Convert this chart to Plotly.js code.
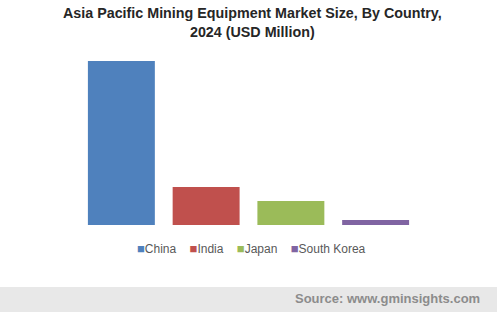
<!DOCTYPE html>
<html>
<head>
<meta charset="utf-8">
<script src="https://cdn.plot.ly/plotly-3.0.1.min.js"></script>
<style>html,body{margin:0;padding:0;background:#fff;}#chart{width:497px;height:312px;}</style>
</head>
<body>
<div id="chart"></div>
<script>
var countries = ["China", "India", "Japan", "South Korea"];
var marketSize = [4920, 1140, 720, 150];
var colors = ["#4F81BD", "#C0504D", "#9BBB59", "#8064A2"];

var traces = countries.map(function (c, i) {
  return {
    type: "bar",
    name: c,
    x: [c],
    y: [marketSize[i]],
    marker: { color: colors[i] },
    hoverinfo: "x+y"
  };
});

function py(p) { return (225 - p) / 164; }
function px(p) { return (p - 79) / 339; }

var legendText = countries.map(function (c, i) {
  return "<span style='color:" + colors[i] + ";font-size:13px'>■</span>" + c;
}).join("&nbsp;&nbsp;&nbsp;&nbsp;");

var layout = {
  width: 497,
  height: 312,
  margin: { l: 79, r: 79, t: 61, b: 87 },
  paper_bgcolor: "#ffffff",
  plot_bgcolor: "#ffffff",
  barmode: "overlay",
  bargap: 0.21,
  showlegend: false,
  xaxis: {
    type: "category",
    categoryorder: "array",
    categoryarray: countries,
    showticklabels: false,
    showgrid: false,
    zeroline: false,
    showline: false,
    ticks: ""
  },
  yaxis: {
    range: [0, 4920],
    visible: false,
    showgrid: false,
    zeroline: false
  },
  shapes: [{
    type: "rect",
    xref: "paper",
    yref: "paper",
    x0: -0.3, x1: 1.3,
    y0: py(287), y1: -0.6,
    fillcolor: "#E8E8E8",
    line: { width: 0 },
    layer: "below"
  }],
  annotations: [{
    text: "<b>Asia Pacific Mining Equipment Market Size, By Country,<br>2024 (USD Million)</b>",
    xref: "paper",
    yref: "paper",
    x: px(252),
    xanchor: "center",
    y: py(3),
    yanchor: "top",
    showarrow: false,
    font: { family: "Liberation Sans, Arial, sans-serif", size: 14.3, color: "#262626" }
  }, {
    text: legendText,
    xref: "paper",
    yref: "paper",
    x: px(251.5),
    xanchor: "center",
    y: py(249),
    yanchor: "middle",
    showarrow: false,
    font: { family: "Liberation Sans, Arial, sans-serif", size: 12, color: "#595959" }
  }, {
    text: "<b>Source: www.gminsights.com</b>",
    xref: "paper",
    yref: "paper",
    x: px(482),
    xanchor: "right",
    y: py(298),
    yanchor: "middle",
    showarrow: false,
    font: { family: "Liberation Sans, Arial, sans-serif", size: 13, color: "#8C8C8C" }
  }]
};

Plotly.newPlot("chart", traces, layout, { displayModeBar: false, staticPlot: true });
</script>
</body>
</html>
